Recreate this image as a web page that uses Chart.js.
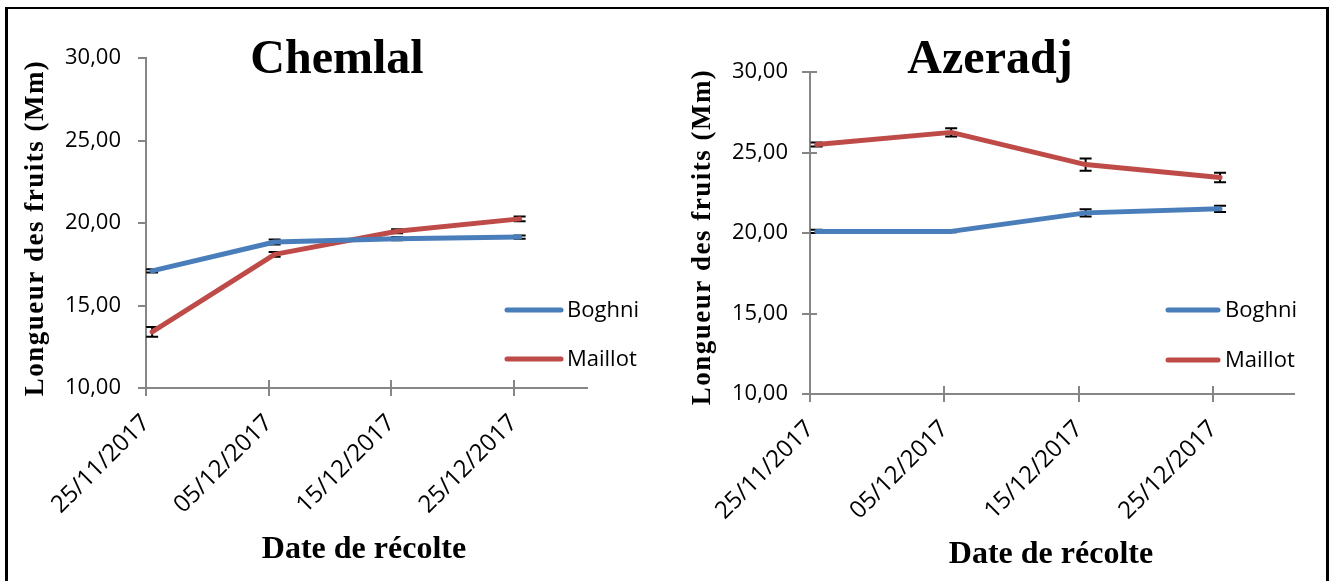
<!DOCTYPE html>
<html><head><meta charset="utf-8">
<script src="https://cdn.jsdelivr.net/npm/chart.js@4.4.1/dist/chart.umd.min.js"></script>
<style>
html,body{margin:0;padding:0;background:#fff;}
body{width:1329px;height:581px;position:relative;overflow:hidden;}
canvas{position:absolute;top:0;}
#c1{left:0;} #c2{left:660px;}
#frame{position:absolute;left:5px;top:7px;width:1324px;height:640px;box-sizing:border-box;border-top:2px solid #000;border-left:3px solid #000;border-right:3px solid #000;pointer-events:none;}
</style></head>
<body>
<canvas id="c1" width="660" height="581"></canvas>
<canvas id="c2" width="669" height="581"></canvas>
<div id="frame"></div>
<script>
// ---- data ----
const dateLabels = ['25/11/2017', '05/12/2017', '15/12/2017', '25/12/2017'];
const seriesNames = ['Boghni', 'Maillot'];
const yTicks = [10, 15, 20, 25, 30];

const chemlalBoghni = [17.1, 18.85, 19.05, 19.15];
const chemlalBoghniErr = [0.1, 0.15, 0.1, 0.1];
const chemlalMaillot = [13.4, 18.1, 19.5, 20.25];
const chemlalMaillotErr = [0.3, 0.15, 0.12, 0.15];

const azeradjBoghni = [20.1, 20.1, 21.25, 21.5];
const azeradjBoghniErr = [0.1, 0.05, 0.22, 0.2];
const azeradjMaillot = [25.5, 26.25, 24.25, 23.45];
const azeradjMaillotErr = [0.12, 0.25, 0.38, 0.3];

// ---- styling ----
const BLUE = '#4A7EBB', RED = '#BE4B48', AXIS = '#868686';
const TICK_FONT = 'Open Sans';
const SERIF = '"Liberation Serif", "Times New Roman", serif';

function dayNum(s) { const [d, m, y] = s.split('/').map(Number); return Date.UTC(y, m - 1, d) / 86400000; }
const day0 = dayNum(dateLabels[0]);
const tickDays = dateLabels.map(s => dayNum(s) - day0);
// date axis: each value is plotted in the middle of its day
const pointDays = tickDays.map(d => d + 0.5);

const decor = {
  id: 'decor',
  beforeDatasetsDraw(chart, args, o) {
    const ctx = chart.ctx, xs = chart.scales.x, ys = chart.scales.y;
    ctx.save();
    ctx.strokeStyle = AXIS; ctx.lineWidth = 2;
    if (o.innerX) xs.ticks.forEach(t => {
      const px = Math.round(xs.getPixelForValue(t.value));
      ctx.beginPath(); ctx.moveTo(px, ys.bottom); ctx.lineTo(px, ys.bottom - o.innerX); ctx.stroke();
    });
    if (o.innerY) ys.ticks.forEach(t => {
      const py = Math.round(ys.getPixelForValue(t.value));
      ctx.beginPath(); ctx.moveTo(xs.left, py); ctx.lineTo(xs.left + o.innerY, py); ctx.stroke();
    });
    ctx.strokeStyle = '#000'; ctx.lineWidth = 2;
    chart.data.datasets.forEach((ds, di) => {
      const meta = chart.getDatasetMeta(di);
      ds.data.forEach((p, i) => {
        const e = ds.errorBars[i];
        const px = meta.data[i].x;
        const y1 = ys.getPixelForValue(p.y - e), y2 = ys.getPixelForValue(p.y + e);
        ctx.beginPath();
        ctx.moveTo(px, y1); ctx.lineTo(px, y2);
        ctx.moveTo(px - 6, y1); ctx.lineTo(px + 6, y1);
        ctx.moveTo(px - 6, y2); ctx.lineTo(px + 6, y2);
        ctx.stroke();
      });
    });
    ctx.restore();
  },
  afterDraw(chart, args, o) {
    const ctx = chart.ctx;
    ctx.save();
    ctx.fillStyle = '#000';
    // title
    ctx.font = 'bold 48px ' + SERIF;
    ctx.textAlign = 'center'; ctx.textBaseline = 'alphabetic';
    ctx.fillText(o.title, o.titleX, o.titleY);
    // x title
    ctx.font = 'bold 32px ' + SERIF;
    ctx.fillText('Date de récolte', o.xTitleX, o.xTitleY);
    // y title
    ctx.save();
    ctx.translate(o.yTitleX, o.yTitleY);
    ctx.rotate(-Math.PI / 2);
    ctx.font = 'bold 27px ' + SERIF;
    ctx.letterSpacing = '1.5px';
    ctx.textBaseline = 'middle';
    ctx.fillText('Longueur des fruits (Mm)', 0, 0);
    ctx.restore();
    // legend
    ctx.font = '22px "' + TICK_FONT + '"';
    ctx.textAlign = 'left'; ctx.textBaseline = 'middle';
    ctx.lineCap = 'round'; ctx.lineWidth = 5;
    chart.data.datasets.forEach((ds, i) => {
      const y = o.legY[i];
      ctx.strokeStyle = ds.borderColor;
      ctx.beginPath(); ctx.moveTo(o.legX1, y); ctx.lineTo(o.legX2, y); ctx.stroke();
      ctx.fillText(ds.label, o.legTextX, y + 1);
    });
    ctx.restore();
  }
};

function makeChart(id, boghni, boghniErr, maillot, maillotErr, lay, deco) {
  const mk = (vals) => vals.map((v, i) => ({ x: pointDays[i], y: v }));
  return new Chart(document.getElementById(id), {
    type: 'line',
    data: {
      datasets: [
        { label: seriesNames[0], data: mk(boghni), errorBars: boghniErr, borderColor: BLUE, backgroundColor: BLUE, borderWidth: 5, pointRadius: 0, tension: 0, borderCapStyle: 'round', borderJoinStyle: 'round' },
        { label: seriesNames[1], data: mk(maillot), errorBars: maillotErr, borderColor: RED, backgroundColor: RED, borderWidth: 5, pointRadius: 0, tension: 0, borderCapStyle: 'round', borderJoinStyle: 'round' }
      ]
    },
    options: {
      responsive: false, animation: false,
      layout: { padding: lay.padding },
      plugins: { legend: { display: false }, title: { display: false }, tooltip: { enabled: false }, decor: deco },
      scales: {
        x: {
          type: 'linear', min: 0, max: 36,
          afterBuildTicks: (s) => { s.ticks = tickDays.map(v => ({ value: v })); },
          afterFit: (s) => { s.height = 170; },
          grid: { display: true, drawOnChartArea: false, drawTicks: true, tickLength: 8, color: AXIS, lineWidth: 2 },
          border: { display: true, color: AXIS, width: 2 },
          ticks: {
            minRotation: 45, maxRotation: 45, autoSkip: false, padding: lay.xPad,
            color: '#000', font: { family: TICK_FONT, size: 24 },
            callback: (v) => dateLabels[tickDays.indexOf(v)]
          }
        },
        y: {
          min: 10, max: 30,
          afterBuildTicks: (s) => { s.ticks = yTicks.map(v => ({ value: v })); },
          afterFit: (s) => { s.width = 140; },
          grid: { display: true, drawOnChartArea: false, drawTicks: true, tickLength: 8, color: AXIS, lineWidth: 2 },
          border: { display: true, color: AXIS, width: 2 },
          ticks: {
            padding: lay.yPad, color: '#000', font: { family: TICK_FONT, size: 22 },
            callback: (v) => v.toFixed(2).replace('.', ',')
          }
        }
      }
    },
    plugins: [decor]
  });
}

makeChart('c1', chemlalBoghni, chemlalBoghniErr, chemlalMaillot, chemlalMaillotErr,
  { padding: { left: 6, right: 73, top: 58, bottom: 23 }, xPad: 13, yPad: 17 },
  { title: 'Chemlal', titleX: 337, titleY: 73, xTitleX: 364, xTitleY: 558, yTitleX: 36, yTitleY: 228,
    legX1: 507, legX2: 561, legTextX: 567, legY: [310, 359], innerX: 8, innerY: 0 });

makeChart('c2', azeradjBoghni, azeradjBoghniErr, azeradjMaillot, azeradjMaillotErr,
  { padding: { left: 10, right: 35, top: 72, bottom: 17 }, xPad: 13, yPad: 14 },
  { title: 'Azeradj', titleX: 330, titleY: 73, xTitleX: 391, xTitleY: 563, yTitleX: 43, yTitleY: 237,
    legX1: 508, legX2: 558, legTextX: 565, legY: [310, 360], innerX: 8, innerY: 7 });
</script>
</body></html>
